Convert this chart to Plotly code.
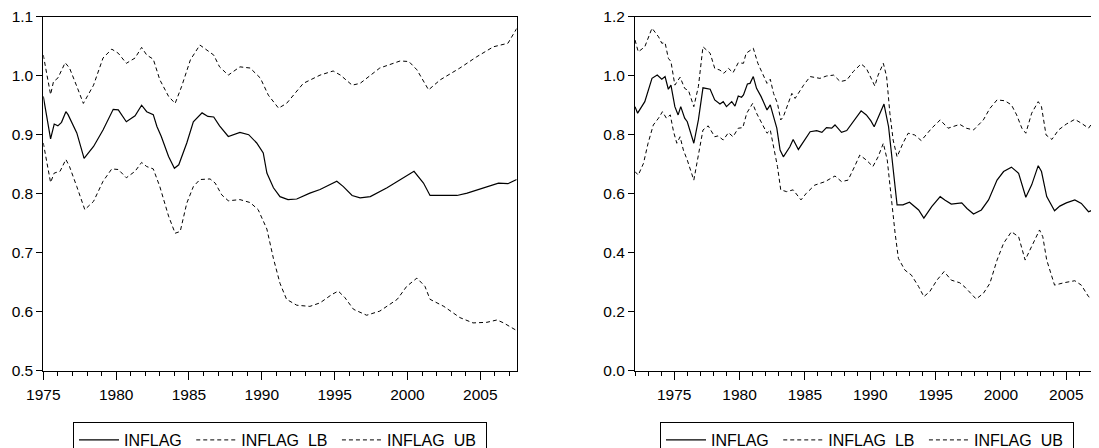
import plotly.graph_objects as go
from plotly.subplots import make_subplots

# left panel (1975-2007)
left_inflag_x = [1975.0, 1975.5, 1975.75, 1976.0, 1976.25, 1976.55, 1976.7, 1977.3, 1977.8, 1978.45,
                 1979.1, 1979.8, 1980.15, 1980.7, 1981.3, 1981.75, 1982.1, 1982.55, 1982.8, 1983.1,
                 1983.6, 1984.0, 1984.3, 1984.85, 1985.3, 1985.9, 1986.3, 1986.7, 1987.1, 1987.7,
                 1988.5, 1989.1, 1989.65, 1990.1, 1990.35, 1990.8, 1991.25, 1991.8, 1992.4, 1993.3,
                 1994.0, 1995.15, 1995.6, 1996.2, 1996.75, 1997.45, 1998.6, 1999.7, 2000.45, 2001.1,
                 2001.55, 2002.5, 2003.4, 2004.1, 2005.45, 2006.25, 2006.9, 2007.5]
left_inflag = [0.965, 0.893, 0.918, 0.915, 0.921, 0.939, 0.934, 0.903, 0.860, 0.880,
               0.908, 0.943, 0.942, 0.922, 0.932, 0.950, 0.939, 0.934, 0.914, 0.897,
               0.863, 0.843, 0.849, 0.886, 0.922, 0.937, 0.931, 0.930, 0.915, 0.897,
               0.904, 0.900, 0.886, 0.869, 0.835, 0.810, 0.795, 0.790, 0.791, 0.801,
               0.807, 0.821, 0.812, 0.797, 0.793, 0.795, 0.810, 0.827, 0.838, 0.818,
               0.797, 0.797, 0.797, 0.801, 0.812, 0.818, 0.817, 0.824]

left_ub_x = [1975.0, 1975.5, 1975.7, 1976.0, 1976.5, 1976.8, 1977.3, 1977.75, 1978.45, 1979.1,
             1979.7, 1980.15, 1980.7, 1981.3, 1981.75, 1982.1, 1982.55, 1983.0, 1983.6, 1984.05,
             1984.5, 1985.1, 1985.75, 1986.2, 1986.7, 1987.1, 1987.7, 1988.5, 1989.2, 1989.9,
             1990.45, 1991.15, 1991.7, 1992.85, 1994.0, 1994.9, 1995.4, 1996.2, 1996.75, 1998.1,
             1999.5, 2000.1, 2000.65, 2001.45, 2002.25, 2003.6, 2004.75, 2005.9, 2006.9, 2007.5]
left_ub = [1.035, 0.968, 0.990, 0.996, 1.022, 1.013, 0.982, 0.953, 0.984, 1.030,
           1.045, 1.038, 1.021, 1.030, 1.048, 1.035, 1.028, 0.993, 0.965, 0.953,
           0.982, 1.027, 1.052, 1.044, 1.035, 1.015, 1.001, 1.015, 1.013, 0.996,
           0.967, 0.945, 0.953, 0.987, 1.001, 1.008, 1.001, 0.984, 0.987, 1.013,
           1.025, 1.024, 1.010, 0.976, 0.993, 1.013, 1.032, 1.049, 1.055, 1.080]

left_lb_x = [1975.0, 1975.5, 1975.75, 1976.15, 1976.55, 1976.8, 1977.3, 1977.85, 1978.45, 1979.1,
             1979.7, 1980.15, 1980.7, 1981.3, 1981.75, 1982.1, 1982.55, 1983.0, 1983.6, 1984.05,
             1984.4, 1984.85, 1985.3, 1985.75, 1986.45, 1986.8, 1987.25, 1987.7, 1988.5, 1989.2,
             1989.75, 1990.35, 1990.8, 1991.25, 1991.7, 1992.4, 1993.3, 1994.0, 1994.8, 1995.25,
             1995.7, 1996.3, 1997.2, 1998.1, 1999.3, 1999.95, 2000.65, 2001.2, 2001.55, 2002.5,
             2003.6, 2004.5, 2005.45, 2006.15, 2006.6, 2007.5]
left_lb = [0.886, 0.819, 0.835, 0.838, 0.858, 0.846, 0.812, 0.773, 0.787, 0.821,
           0.842, 0.841, 0.827, 0.838, 0.853, 0.846, 0.842, 0.812, 0.762, 0.733,
           0.736, 0.784, 0.812, 0.824, 0.825, 0.818, 0.798, 0.788, 0.790, 0.785,
           0.773, 0.740, 0.690, 0.648, 0.621, 0.611, 0.609, 0.615, 0.629, 0.635,
           0.624, 0.604, 0.594, 0.601, 0.621, 0.643, 0.657, 0.643, 0.621, 0.609,
           0.590, 0.581, 0.582, 0.586, 0.581, 0.568]

# right panel (1972-2007)
right_inflag_x = [1972.0, 1972.2, 1972.75, 1973.3, 1973.7, 1974.05, 1974.3, 1974.55, 1974.75, 1975.05,
                  1975.3, 1975.5, 1975.8, 1976.0, 1976.5, 1976.85, 1977.2, 1977.75, 1978.1, 1978.5,
                  1978.75, 1979.0, 1979.4, 1979.65, 1979.9, 1980.15, 1980.3, 1980.6, 1980.8, 1981.05,
                  1981.3, 1981.65, 1982.1, 1982.35, 1982.6, 1982.85, 1983.1, 1983.35, 1983.85, 1984.1,
                  1984.5, 1984.9, 1985.4, 1985.9, 1986.3, 1986.65, 1987.05, 1987.3, 1987.8, 1988.2,
                  1988.7, 1989.3, 1989.7, 1990.05, 1990.3, 1990.6, 1991.05, 1991.4, 1991.75, 1992.05,
                  1992.5, 1993.0, 1993.7, 1994.1, 1994.7, 1995.35, 1995.7, 1996.2, 1997.0, 1997.4,
                  1997.9, 1998.5, 1999.05, 1999.7, 2000.2, 2000.8, 2001.35, 2001.9, 2002.35, 2002.85,
                  2003.1, 2003.5, 2004.1, 2004.5, 2005.0, 2005.65, 2006.15, 2006.7, 2007.05, 2007.5]
right_inflag = [0.895, 0.873, 0.912, 0.991, 1.002, 0.988, 0.997, 0.954, 0.968, 0.895,
                0.867, 0.895, 0.856, 0.844, 0.771, 0.850, 0.959, 0.954, 0.918, 0.904,
                0.912, 0.895, 0.912, 0.897, 0.931, 0.927, 0.935, 0.972, 0.974, 0.997,
                0.957, 0.929, 0.884, 0.901, 0.861, 0.822, 0.748, 0.725, 0.759, 0.784,
                0.750, 0.776, 0.810, 0.814, 0.808, 0.824, 0.822, 0.833, 0.808, 0.814,
                0.844, 0.881, 0.867, 0.847, 0.827, 0.856, 0.904, 0.827, 0.692, 0.562,
                0.562, 0.571, 0.545, 0.517, 0.556, 0.590, 0.579, 0.565, 0.569, 0.550,
                0.531, 0.545, 0.579, 0.646, 0.675, 0.690, 0.669, 0.588, 0.630, 0.695,
                0.675, 0.590, 0.542, 0.558, 0.569, 0.579, 0.567, 0.539, 0.545, 0.556]

right_ub_x = [1972.0, 1972.25, 1972.75, 1973.3, 1973.8, 1974.05, 1974.3, 1974.55, 1974.75, 1975.05,
              1975.45, 1975.8, 1976.1, 1976.5, 1976.85, 1977.2, 1977.75, 1978.1, 1978.5, 1978.8,
              1979.15, 1979.5, 1979.9, 1980.3, 1980.5, 1981.05, 1981.4, 1981.8, 1982.1, 1982.35,
              1982.6, 1982.9, 1983.15, 1983.35, 1984.0, 1984.25, 1984.9, 1985.4, 1986.15, 1986.65,
              1987.2, 1987.7, 1988.2, 1988.7, 1989.3, 1989.7, 1990.05, 1990.35, 1990.6, 1991.0,
              1991.25, 1991.5, 1991.75, 1992.05, 1992.5, 1992.9, 1993.4, 1993.9, 1994.7, 1995.35,
              1995.95, 1996.85, 1997.35, 1997.9, 1998.65, 1999.15, 1999.7, 2000.3, 2000.8, 2001.2,
              2001.6, 2001.9, 2002.35, 2002.85, 2003.1, 2003.45, 2003.9, 2004.4, 2005.0, 2005.65,
              2006.15, 2006.7, 2007.05, 2007.5]
right_ub = [1.121, 1.081, 1.098, 1.161, 1.132, 1.110, 1.112, 1.059, 1.048, 0.968,
            0.995, 0.957, 0.949, 0.895, 0.963, 1.098, 1.076, 1.025, 1.019, 1.008,
            1.025, 1.010, 1.044, 1.042, 1.076, 1.093, 1.042, 1.002, 0.974, 0.988,
            0.940, 0.906, 0.850, 0.861, 0.940, 0.923, 0.968, 0.997, 0.991, 0.999,
            1.002, 0.980, 0.985, 1.014, 1.040, 1.025, 0.995, 0.965, 1.002, 1.042,
            0.997, 0.873, 0.782, 0.725, 0.771, 0.805, 0.799, 0.780, 0.822, 0.850,
            0.822, 0.835, 0.822, 0.816, 0.850, 0.889, 0.918, 0.915, 0.901, 0.867,
            0.822, 0.805, 0.873, 0.912, 0.895, 0.799, 0.784, 0.816, 0.836, 0.852,
            0.839, 0.822, 0.844, 0.861]

right_lb_x = [1972.0, 1972.25, 1972.65, 1973.0, 1973.4, 1973.8, 1974.1, 1974.4, 1974.7, 1974.95,
              1975.2, 1975.45, 1975.7, 1976.0, 1976.5, 1976.85, 1977.2, 1977.6, 1978.1, 1978.35,
              1978.75, 1979.15, 1979.5, 1979.9, 1980.25, 1980.55, 1981.0, 1981.3, 1981.8, 1982.1,
              1982.35, 1982.6, 1982.9, 1983.15, 1983.6, 1984.1, 1984.7, 1985.1, 1985.75, 1986.55,
              1987.3, 1987.8, 1988.3, 1988.8, 1989.2, 1989.7, 1990.2, 1990.6, 1991.0, 1991.3,
              1991.65, 1991.9, 1992.15, 1992.65, 1993.15, 1993.7, 1994.1, 1994.55, 1995.1, 1995.65,
              1996.2, 1996.85, 1997.25, 1997.9, 1998.1, 1998.65, 1999.15, 1999.7, 2000.2, 2000.8,
              2001.35, 2001.85, 2002.35, 2002.95, 2003.2, 2003.5, 2004.1, 2004.8, 2005.65, 2006.15,
              2006.7, 2007.2, 2007.5]
right_lb = [0.675, 0.663, 0.703, 0.771, 0.833, 0.856, 0.878, 0.856, 0.867, 0.810,
            0.771, 0.793, 0.748, 0.714, 0.646, 0.737, 0.816, 0.830, 0.793, 0.796,
            0.782, 0.807, 0.793, 0.822, 0.824, 0.873, 0.906, 0.873, 0.827, 0.805,
            0.816, 0.759, 0.692, 0.613, 0.607, 0.613, 0.579, 0.601, 0.629, 0.641,
            0.660, 0.641, 0.646, 0.692, 0.731, 0.714, 0.692, 0.725, 0.771, 0.714,
            0.556, 0.466, 0.381, 0.341, 0.324, 0.285, 0.251, 0.268, 0.307, 0.336,
            0.307, 0.298, 0.283, 0.251, 0.243, 0.262, 0.296, 0.375, 0.432, 0.471,
            0.454, 0.375, 0.420, 0.477, 0.454, 0.375, 0.290, 0.298, 0.305, 0.290,
            0.251, 0.240, 0.242]

series_names = ["INFLAG", "INFLAG_LB", "INFLAG_UB"]

FONT = "Liberation Sans, Arial, sans-serif"
solid = dict(color="black", width=1.2)
dashed = dict(color="black", width=1, dash="4px,3px")

fig = make_subplots(rows=1, cols=2)

panels = [
    (1, "legend", [(left_inflag_x, left_inflag), (left_lb_x, left_lb), (left_ub_x, left_ub)]),
    (2, "legend2", [(right_inflag_x, right_inflag), (right_lb_x, right_lb), (right_ub_x, right_ub)]),
]
for col, leg, series in panels:
    for name, (xs, ys) in zip(series_names, series):
        fig.add_trace(go.Scatter(
            x=xs, y=ys, mode="lines",
            line=solid if name == "INFLAG" else dashed,
            name=name + "\u00a0", legend=leg,
        ), row=1, col=col)

# the page body keeps its 8px default margin: size the figure so it fits the
# 1099x448 window and convert page pixel positions to figure fractions
OFF = 8
W, H = 1099 - OFF, 448 - OFF


def fx(px):
    return (px - OFF) / W


def fy(py):
    return (H - (py - OFF)) / H


ydom = [fy(370.7), fy(16.7)]

axis_common = dict(
    showline=True, linecolor="black", linewidth=1, showgrid=False, zeroline=False,
    ticks="outside", tickcolor="black", tickwidth=1, automargin=False, mirror=True,
    tickfont=dict(family=FONT, size=15.5, color="black"),
)
fig.update_xaxes(axis_common, tick0=1975, dtick=5, ticklen=8, ticklabelstandoff=2,
                 minor=dict(dtick=1, tick0=1975, ticks="outside", ticklen=4, tickcolor="black"))
fig.update_yaxes(axis_common, domain=ydom, tickformat=".1f", ticklen=6)

legend_style = dict(orientation="h", xanchor="center", y=fy(422), yanchor="top",
                    bordercolor="black", borderwidth=1, bgcolor="white", itemwidth=40,
                    font=dict(family=FONT, size=16, color="black"))

fig.update_layout(
    xaxis=dict(domain=[fx(43.3), fx(516.7)], range=[1975, 2007.5]),
    yaxis=dict(range=[0.5, 1.1], dtick=0.1),
    xaxis2=dict(domain=[fx(635), 1.0], range=[1972, 2007.5]),
    yaxis2=dict(range=[0.0, 1.2], dtick=0.2, mirror=False),
    width=W, height=H,
    margin=dict(l=0, r=0, t=0, b=0, autoexpand=False),
    paper_bgcolor="white", plot_bgcolor="white",
    font=dict(family=FONT, size=15, color="black"),
    legend=dict(legend_style, x=fx(280)),
    legend2=dict(legend_style, x=fx(867)),
)

fig.write_html("out.html")
